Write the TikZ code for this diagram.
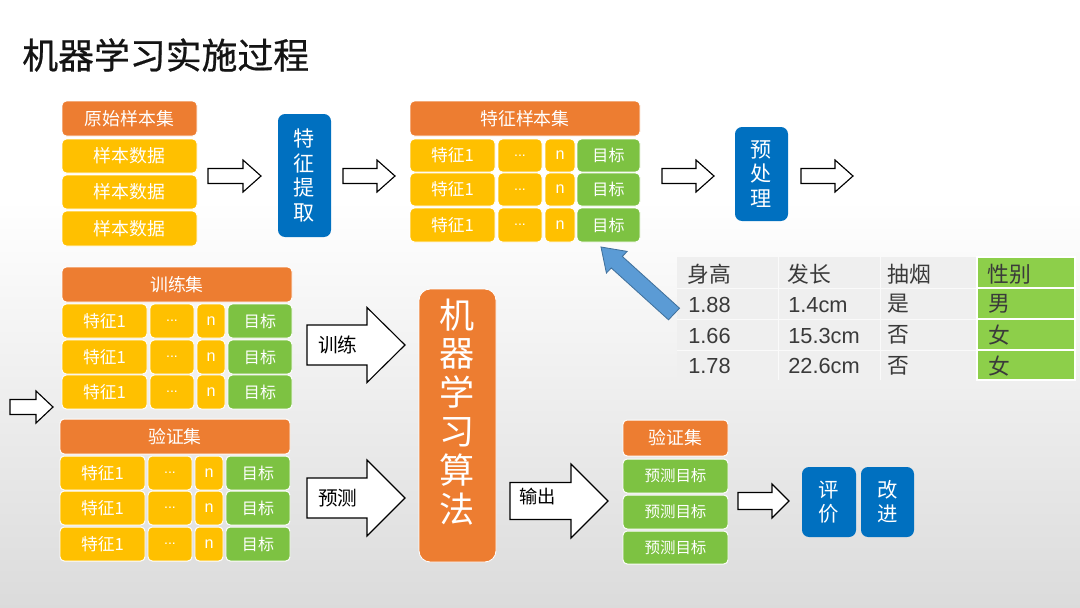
\documentclass[tikz,border=0pt]{standalone}
\usepackage{fontspec}
\setmainfont{Noto Sans CJK SC}
\newfontfamily\lat{Liberation Sans}
\newfontfamily\titlef{Noto Sans CJK SC}[FakeBold=0.6]
\definecolor{cOr}{HTML}{ED7D31}
\definecolor{cYe}{HTML}{FFC000}
\definecolor{cGr}{HTML}{7DC242}
\definecolor{cBl}{HTML}{0070C0}
\definecolor{cTg}{HTML}{8DCF4A}
\definecolor{cAr}{HTML}{5B9BD5}
\definecolor{cArD}{HTML}{41719C}
\definecolor{cTb}{HTML}{EFEFEF}
\definecolor{cTx}{HTML}{3A3A3A}
\tikzset{
 cellbase/.style={draw=white, line width=0.7pt, rounded corners=3pt, inner sep=0pt, text=white},
 hdr/.style={cellbase, fill=cOr, font=\fontsize{12.7}{14}\selectfont},
 yel/.style={cellbase, fill=cYe, font=\fontsize{12.7}{14}\selectfont},
 fe/.style={cellbase, fill=cYe, font=\fontsize{11.9}{13}\selectfont},
 dots/.style={cellbase, fill=cYe, font=\lat\fontsize{10}{10}\selectfont},
 nn/.style={cellbase, fill=cYe, font=\lat\fontsize{11.5}{12}\selectfont},
 tg/.style={cellbase, fill=cGr, font=\fontsize{11.4}{13}\selectfont},
 pt/.style={cellbase, fill=cGr, font=\fontsize{11}{13}\selectfont},
 vbox/.style={draw=none, fill=cBl, rounded corners=5pt, text=white, inner sep=0pt, align=center},
 algbox/.style={draw=white, line width=0.6pt, fill=cOr, rounded corners=8pt, inner sep=0pt},
 blk/.style={draw=black, line width=0.8pt, fill=white, line join=miter},
 lbl/.style={font=\fontsize{14}{16}\selectfont, text=black, anchor=west, inner sep=0pt},
 tblbg/.style={fill=cTb, draw=none, inner sep=0pt},
 tgc/.style={fill=cTg, draw=white, line width=0.8pt, inner sep=0pt},
 tt/.style={font=\fontsize{15.5}{17}\selectfont, text=cTx, anchor=west, inner sep=0pt},
 tn/.style={font=\lat\fontsize{15.5}{17}\selectfont, text=cTx, anchor=west, inner sep=0pt},
 grid/.style={draw=white!70!cTb, line width=0.6pt},
}
\newcommand\bx[7]{\node[#6, minimum width={(#4-#2)*0.025cm}, minimum height={(#5-#3)*0.025cm}] (#1) at ({(#2+#4)/2},{(#3+#5)/2}) {#7};}
\newcommand\setkx[8]{\def\kxA{#1}\def\kxB{#2}\def\kxC{#3}\def\kxD{#4}\def\kxE{#5}\def\kxF{#6}\def\kxG{#7}\def\kxH{#8}}
\newcommand\frow[3]{%
 \bx{#1f}{\kxA}{#2}{\kxB}{#3}{fe}{特征1}
 \bx{#1d}{\kxC}{#2}{\kxD}{#3}{dots}{...}
 \bx{#1n}{\kxE}{#2}{\kxF}{#3}{nn}{n}
 \bx{#1t}{\kxG}{#2}{\kxH}{#3}{tg}{目标}}
\newcommand\blkarrow[6]{\draw[blk] (#1,{#3-#4}) -- ({#2-#6},{#3-#4}) -- ({#2-#6},{#3-#5}) -- (#2,#3) -- ({#2-#6},{#3+#5}) -- ({#2-#6},{#3+#4}) -- (#1,{#3+#4}) -- cycle;}
\begin{document}
\begin{tikzpicture}[x=0.025cm,y=-0.025cm]
\useasboundingbox (0,0) rectangle (1080,607);
\fill[white] (0,0) rectangle (1080,607);
\shade[top color=white, bottom color=black!14] (0,200) rectangle (1080,607);
% title
\node[anchor=west, inner sep=0pt, font=\titlef\fontsize{25.5}{28}\selectfont, text=black!92] (title) at (22,55) {机器学习实施过程};
% raw sample set
\bx{raw}{62}{101}{197}{136}{hdr}{原始样本集}
\bx{raw1}{62}{139}{197}{173}{yel}{样本数据}
\bx{raw2}{62}{175}{197}{209}{yel}{样本数据}
\bx{raw3}{62}{211}{197}{246}{yel}{样本数据}
\blkarrow{208}{261}{176}{7.5}{16}{18}
\bx{fex}{278}{114}{331}{237}{vbox, font=\fontsize{15}{17.5}\selectfont}{特\\征\\提\\取}
\blkarrow{343}{395}{176}{7.5}{16}{18}
% feature sample set
\bx{fs}{410}{101}{640}{136}{hdr}{特征样本集}
\setkx{410}{495}{498}{542}{545}{575}{577}{640}
\frow{fsa}{139}{172}
\frow{fsb}{173}{206}
\frow{fsc}{208}{242}
\blkarrow{662}{714}{176}{7.5}{16}{18}
\bx{pre}{735}{127}{788}{221}{vbox, font=\fontsize{15}{17.5}\selectfont}{预\\处\\理}
\blkarrow{801}{853}{176}{7.5}{16}{18}
% table
\bx{tbg}{677}{257}{977}{380}{tblbg}{}
\draw[grid] (677,288) -- (977,288);
\draw[grid] (677,319) -- (977,319);
\draw[grid] (677,350) -- (977,350);
\draw[grid] (778,257) -- (778,380);
\draw[grid] (880,257) -- (880,380);
\bx{g0}{977}{257}{1075}{288}{tgc}{}
\bx{g1}{977}{288}{1075}{319}{tgc}{}
\bx{g2}{977}{319}{1075}{350}{tgc}{}
\bx{g3}{977}{350}{1075}{380}{tgc}{}
\node[tt] (h1) at (687,274) {身高};
\node[tt] (h2) at (787,274) {发长};
\node[tt] (h3) at (887,274) {抽烟};
\node[tt] (h4) at (987,274) {性别};
\node[tn] (a1) at (688,305) {1.88};
\node[tn] (a2) at (788,305) {1.4cm};
\node[tt] (a3) at (887,304) {是};
\node[tt] (a4) at (988,304) {男};
\node[tn] (b1) at (688,336) {1.66};
\node[tn] (b2) at (788,336) {15.3cm};
\node[tt] (b3) at (887,335) {否};
\node[tt] (b4) at (988,335) {女};
\node[tn] (c1) at (688,366) {1.78};
\node[tn] (c2) at (788,366) {22.6cm};
\node[tt] (c3) at (887,366) {否};
\node[tt] (c4) at (988,366) {女};
\draw[fill=cAr, draw=cArD, line width=0.6pt, line join=miter] (679.5,308.2) -- (622.3,256.4) -- (627.2,251.4) -- (601,247) -- (606.4,273.0) -- (611.3,268.0) -- (668.5,319.8) -- cycle;
% training set
\bx{tr}{62}{267}{292}{302}{hdr}{训练集}
\setkx{62}{147}{150}{194}{197}{225}{228}{292}
\frow{tra}{304}{338}
\frow{trb}{340}{374}
\frow{trc}{375}{409}
% validation set
\bx{va}{60}{419}{290}{454}{hdr}{验证集}
\setkx{60}{145}{148}{192}{195}{223}{226}{290}
\frow{vaa}{456}{490}
\frow{vab}{491}{525}
\frow{vac}{527}{561}
\blkarrow{10}{53}{407}{7.5}{16}{17}
% training / predict arrows
\blkarrow{307}{405}{345}{20}{37.5}{38}
\node[lbl] (ltr) at (318,345) {训练};
\blkarrow{307}{405}{498}{20}{38}{38}
\node[lbl] (lpr) at (318,498) {预测};
% algorithm
\bx{alg}{419}{289}{496}{562}{algbox}{}
\node[align=center, text=white, inner sep=0pt, font=\fontsize{25}{27.7}\selectfont] (algtxt) at (457.5,412) {机\\器\\学\\习\\算\\法};
\blkarrow{510}{608}{501}{18.5}{37}{37}
\node[lbl, font=\fontsize{13}{15}\selectfont] (lout) at (519,497) {输出};
% result
\bx{rv}{623}{420}{728}{456}{hdr}{验证集}
\bx{rv1}{623}{459}{728}{493}{pt}{预测目标}
\bx{rv2}{623}{495}{728}{529}{pt}{预测目标}
\bx{rv3}{623}{531}{728}{564}{pt}{预测目标}
\blkarrow{738}{789}{501}{8.5}{17}{17}
\bx{ev}{802}{467}{856}{537}{vbox, font=\fontsize{14.5}{17}\selectfont}{评\\价}
\bx{im}{861}{467}{914}{537}{vbox, font=\fontsize{14.5}{17}\selectfont}{改\\进}
\end{tikzpicture}
\end{document}
